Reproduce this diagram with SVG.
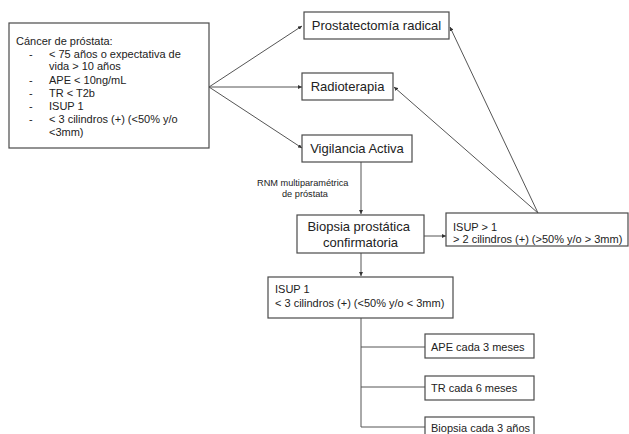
<svg xmlns="http://www.w3.org/2000/svg" width="629" height="434" viewBox="0 0 629 434">
<defs>
<style>
.box{fill:#fff;stroke:#4a4a4a;stroke-width:1.2}
.t{font-family:"Liberation Sans",Arial,sans-serif;fill:#222}
.c{stroke:#555;stroke-width:1;fill:none}
</style>
<marker id="ah" viewBox="0 0 6 6" refX="6" refY="3" markerWidth="4" markerHeight="4" orient="auto">
<path d="M0,0 L6,3 L0,6 z" fill="#333"/>
</marker>
</defs>
<rect width="629" height="434" fill="#fff"/>
<g id="connectors">
<line class="c" x1="209" y1="87" x2="302" y2="26" marker-end="url(#ah)"/>
<line class="c" x1="209" y1="87" x2="302" y2="87" marker-end="url(#ah)"/>
<line class="c" x1="209" y1="87" x2="302" y2="148" marker-end="url(#ah)"/>
<line class="c" x1="361" y1="162" x2="361" y2="214" marker-end="url(#ah)"/>
<line class="c" x1="424" y1="236" x2="446" y2="236" marker-end="url(#ah)"/>
<line class="c" x1="538" y1="213" x2="450" y2="27" marker-end="url(#ah)"/>
<line class="c" x1="538" y1="213" x2="394" y2="87" marker-end="url(#ah)"/>
<line class="c" x1="361" y1="253" x2="361" y2="276" marker-end="url(#ah)"/>
<polyline class="c" points="361,318 361,427 425,427"/>
<line class="c" x1="361" y1="347" x2="425" y2="347"/>
<line class="c" x1="361" y1="387" x2="425" y2="387"/>
</g>
<g id="criterios">
<rect class="box" x="9" y="23" width="200" height="125"/>
<text class="t" font-size="11">
<tspan x="16" y="45">Cáncer de próstata:</tspan>
<tspan x="29" y="58">-</tspan><tspan x="49" y="58">&lt; 75 años o expectativa de</tspan>
<tspan x="49" y="70">vida &gt; 10 años</tspan>
<tspan x="29" y="84">-</tspan><tspan x="49" y="84">APE &lt; 10ng/mL</tspan>
<tspan x="29" y="97">-</tspan><tspan x="49" y="97">TR &lt; T2b</tspan>
<tspan x="29" y="110">-</tspan><tspan x="49" y="110">ISUP 1</tspan>
<tspan x="29" y="123">-</tspan><tspan x="49" y="123">&lt; 3 cilindros (+) (&lt;50% y/o</tspan>
<tspan x="49" y="136">&lt;3mm)</tspan>
</text>
</g>
<g id="prostatectomia">
<rect class="box" x="304" y="12" width="145" height="27"/>
<text class="t" font-size="13" x="376.5" y="30" text-anchor="middle">Prostatectomía radical</text>
</g>
<g id="radioterapia">
<rect class="box" x="302" y="73" width="91" height="27"/>
<text class="t" font-size="13" x="347.5" y="91" text-anchor="middle">Radioterapia</text>
</g>
<g id="vigilancia">
<rect class="box" x="302" y="135" width="110" height="27"/>
<text class="t" font-size="13" x="357" y="153" text-anchor="middle">Vigilancia Activa</text>
</g>
<g id="rnm-label">
<text class="t" font-size="9.2" text-anchor="middle" fill="#333">
<tspan x="304" y="186">RNM multiparamétrica</tspan>
<tspan x="305" y="197">de próstata</tspan>
</text>
</g>
<g id="biopsia-confirmatoria">
<rect class="box" x="297" y="215" width="127" height="38"/>
<text class="t" font-size="13" text-anchor="middle">
<tspan x="360.5" y="231">Biopsia prostática</tspan>
<tspan x="360.5" y="247">confirmatoria</tspan>
</text>
</g>
<g id="isup-mayor">
<rect class="box" x="446" y="213" width="182" height="33"/>
<text class="t" font-size="11">
<tspan x="453" y="231">ISUP &gt; 1</tspan>
<tspan x="453" y="243">&gt; 2 cilindros (+) (&gt;50% y/o &gt; 3mm)</tspan>
</text>
</g>
<g id="isup-1">
<rect class="box" x="268" y="277" width="185" height="41"/>
<text class="t" font-size="11">
<tspan x="275" y="293">ISUP 1</tspan>
<tspan x="275" y="307">&lt; 3 cilindros (+) (&lt;50% y/o &lt; 3mm)</tspan>
</text>
</g>
<g id="ape">
<rect class="box" x="425" y="334" width="109" height="24"/>
<text class="t" font-size="11" x="431" y="351">APE cada 3 meses</text>
</g>
<g id="tr">
<rect class="box" x="425" y="376" width="109" height="24"/>
<text class="t" font-size="11" x="431" y="392">TR cada 6 meses</text>
</g>
<g id="biopsia-seguimiento">
<rect class="box" x="425" y="417" width="109" height="24"/>
<text class="t" font-size="11" x="431" y="432">Biopsia cada 3 años</text>
</g>
</svg>
